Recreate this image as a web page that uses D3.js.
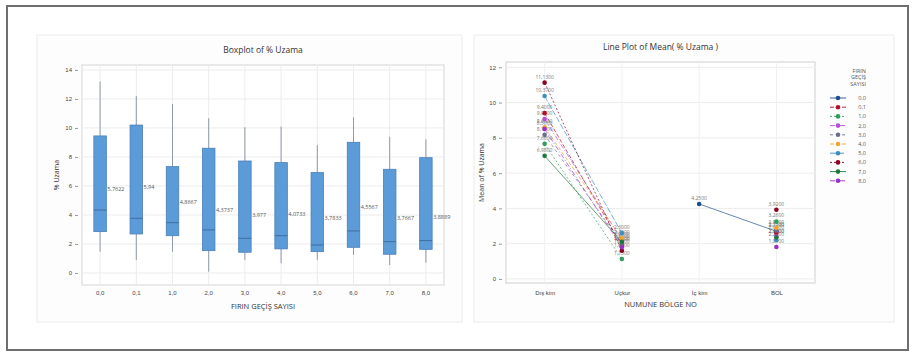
<!DOCTYPE html>
<html><head><meta charset="utf-8">
<script src="https://cdn.jsdelivr.net/npm/d3@7"></script>
<style>body{margin:0;background:#fff;}svg{display:block;font-family:"Open Sans","DejaVu Sans",sans-serif;}</style>
</head><body>
<svg id="c" width="914" height="353"></svg>
<script>
// ---- Boxplot data ----
const passes = ["0,0","0,1","1,0","2,0","3,0","4,0","5,0","6,0","7,0","8,0"];
const whiskLow  = [1.47,0.90,1.47,0.09,0.90,0.67,0.90,1.24,0.55,0.71];
const q1        = [2.85,2.69,2.57,1.54,1.43,1.66,1.47,1.77,1.29,1.63];
const medians   = [4.34,3.77,3.47,2.97,2.39,2.57,1.93,2.90,2.16,2.23];
const q3        = [9.45,10.20,7.33,8.60,7.72,7.61,6.92,9.01,7.15,7.95];
const whiskHigh = [13.20,12.20,11.65,10.67,10.05,10.10,8.83,10.74,9.40,9.22];
const means     = [5.7622,5.94,4.8667,4.3737,3.977,4.0733,3.7833,4.5567,3.7667,3.8889];
const meanLabels= ["5,7622","5,94","4,8667","4,3737","3,977","4,0733","3,7833","4,5567","3,7667","3,8889"];
const boxTicks  = [0,2,4,6,8,10,12,14];

// ---- Line plot data ----
const regions = ["Dış kim","Uçkur","İç kim","BOL"];
const s00 = [null,null,4.25,2.70];
const s01 = [9.40,1.90,null,2.60];
const s10 = [7.66,1.13,null,3.26];
const s20 = [9.07,2.20,null,2.40];
const s30 = [8.17,2.00,null,2.75];
const s40 = [8.60,2.30,null,2.90];
const s50 = [10.37,2.60,null,2.20];
const s60 = [11.13,1.60,null,3.92];
const s70 = [6.98,2.10,null,2.35];
const s80 = [8.50,1.80,null,1.81];
const seriesNames = passes;
const seriesValues = [s00,s01,s10,s20,s30,s40,s50,s60,s70,s80];
const seriesColors = ["#1f4e8c","#b0102a","#2e9e5e","#b34fd0","#6b6f8f","#f0a531","#3d8fc0","#8c0020","#1d7a3d","#9a2fc8"];
const seriesDash = ["", "4,2", "2,2", "5,2,1,2", "3,3", "4,2", "6,2", "2,2", "", "5,2,1,2"];
const lineTicks = [0,2,4,6,8,10,12];

const svg = d3.select("#c");
// outer frame
svg.append("rect").attr("x",7).attr("y",6).attr("width",901).attr("height",344)
  .attr("fill","#fff").attr("stroke","#6e6e6e").attr("stroke-width",2);
// cards
svg.append("rect").attr("x",37).attr("y",35).attr("width",425).attr("height",287).attr("fill","#fdfdfd").attr("stroke","#ececec");
svg.append("rect").attr("x",474).attr("y",35).attr("width",420).attr("height",287).attr("fill","#fdfdfd").attr("stroke","#ececec");

// ===== Boxplot =====
const L = {x0:82,x1:444,y0:65,y1:285};
const bx = d3.scaleBand().domain(passes).range([L.x0,L.x1]).padding(0);
const by = d3.scaleLinear().domain([-0.83,14.34]).range([L.y1,L.y0]);
const gL = svg.append("g");
gL.append("rect").attr("x",L.x0).attr("y",L.y0).attr("width",L.x1-L.x0).attr("height",L.y1-L.y0).attr("fill","#fff").attr("stroke","#d6d6d6");
// grid
gL.selectAll(".hg").data(boxTicks).join("line").attr("x1",L.x0).attr("x2",L.x1)
  .attr("y1",d=>by(d)).attr("y2",d=>by(d)).attr("stroke","#ececec");
gL.selectAll(".vg").data(passes).join("line").attr("y1",L.y0).attr("y2",L.y1)
  .attr("x1",d=>bx(d)+bx.bandwidth()/2).attr("x2",d=>bx(d)+bx.bandwidth()/2).attr("stroke","#ececec");
// axes
const yAxL = d3.axisLeft(by).tickValues(boxTicks).tickSize(3).tickFormat(d3.format("d"));
const ga = gL.append("g").attr("transform",`translate(${L.x0-4},0)`).call(yAxL);
ga.select(".domain").remove();
ga.selectAll("line").attr("stroke","#999");
ga.selectAll("text").attr("font-size",6).attr("fill","#444");
const xAxL = d3.axisBottom(bx).tickSize(0).tickPadding(6);
const gx = gL.append("g").attr("transform",`translate(0,${L.y1})`).call(xAxL);
gx.select(".domain").remove();
gx.selectAll("text").attr("font-size",6).attr("fill","#444");
const bw = 12.5;
passes.forEach((p,i)=>{
  const cx = bx(p)+bx.bandwidth()/2;
  gL.append("line").attr("x1",cx).attr("x2",cx).attr("y1",by(whiskHigh[i])).attr("y2",by(q3[i])).attr("stroke","#8f9aa8").attr("stroke-width",1);
  gL.append("line").attr("x1",cx).attr("x2",cx).attr("y1",by(q1[i])).attr("y2",by(whiskLow[i])).attr("stroke","#8f9aa8").attr("stroke-width",1);
  gL.append("rect").attr("x",cx-bw/2).attr("y",by(q3[i])).attr("width",bw).attr("height",by(q1[i])-by(q3[i]))
    .attr("fill","#5b9bd8").attr("stroke","#4a7fb8").attr("stroke-width",0.8);
  gL.append("line").attr("x1",cx-bw/2).attr("x2",cx+bw/2).attr("y1",by(medians[i])).attr("y2",by(medians[i])).attr("stroke","#3f6e9e").attr("stroke-width",1);
  gL.append("text").attr("x",cx+bw/2+1).attr("y",by(means[i])+2).attr("font-size",5.5).attr("fill","#555").text(meanLabels[i]);
});
gL.append("text").attr("x",(L.x0+L.x1)/2).attr("y",53).attr("text-anchor","middle").attr("font-size",8.5).attr("fill","#333").text("Boxplot of % Uzama");
gL.append("text").attr("x",(L.x0+L.x1)/2).attr("y",309).attr("text-anchor","middle").attr("font-size",7.5).attr("fill","#333").text("FIRIN GEÇİŞ SAYISI");
gL.append("text").attr("transform",`translate(59,${(L.y0+L.y1)/2}) rotate(-90)`).attr("text-anchor","middle").attr("font-size",7).attr("fill","#333").text("% Uzama");

// ===== Line plot =====
const R = {x0:506,x1:815,y0:62,y1:283};
const rx = d3.scalePoint().domain(regions).range([R.x0,R.x1]).padding(0.5);
const ry = d3.scaleLinear().domain([-0.23,12.3]).range([R.y1,R.y0]);
const gR = svg.append("g");
gR.append("rect").attr("x",R.x0).attr("y",R.y0).attr("width",R.x1-R.x0).attr("height",R.y1-R.y0).attr("fill","#fff").attr("stroke","#cfcfcf");
gR.selectAll(".hg").data(lineTicks).join("line").attr("x1",R.x0).attr("x2",R.x1)
  .attr("y1",d=>ry(d)).attr("y2",d=>ry(d)).attr("stroke","#ececec");
gR.selectAll(".vg").data(regions).join("line").attr("y1",R.y0).attr("y2",R.y1)
  .attr("x1",d=>rx(d)).attr("x2",d=>rx(d)).attr("stroke","#f0f0f0");
const gay = gR.append("g").attr("transform",`translate(${R.x0-4},0)`).call(d3.axisLeft(ry).tickValues(lineTicks).tickSize(3));
gay.select(".domain").remove();
gay.selectAll("line").attr("stroke","#999");
gay.selectAll("text").attr("font-size",6).attr("fill","#444");
const gax = gR.append("g").attr("transform",`translate(0,${R.y1})`).call(d3.axisBottom(rx).tickSize(0).tickPadding(8));
gax.select(".domain").remove();
gax.selectAll("text").attr("font-size",6).attr("fill","#444");
const line = d3.line().defined(d=>d.v!=null).x(d=>rx(d.r)).y(d=>ry(d.v));
seriesValues.forEach((vals,i)=>{
  const pts = vals.map((v,j)=>({r:regions[j],v}));
  gR.append("path").datum(pts).attr("d",line).attr("fill","none").attr("stroke",seriesColors[i])
    .attr("stroke-width",0.8).attr("stroke-dasharray",seriesDash[i]).attr("opacity",0.85);
});
seriesValues.forEach((vals,i)=>{
  vals.forEach((v,j)=>{
    if(v==null) return;
    gR.append("text").attr("x",rx(regions[j])).attr("y",ry(v)-4).attr("text-anchor","middle")
      .attr("font-size",5).attr("fill","#777").text(d3.format(".4f")(v).replace(".",","));
  });
});
seriesValues.forEach((vals,i)=>{
  vals.forEach((v,j)=>{
    if(v==null) return;
    gR.append("circle").attr("cx",rx(regions[j])).attr("cy",ry(v)).attr("r",2.3).attr("fill",seriesColors[i]);
  });
});
gR.append("text").attr("x",(R.x0+R.x1)/2).attr("y",50).attr("text-anchor","middle").attr("font-size",8.5).attr("fill","#333").text("Line Plot of Mean( % Uzama )");
gR.append("text").attr("x",(R.x0+R.x1)/2).attr("y",307).attr("text-anchor","middle").attr("font-size",7.5).attr("fill","#333").text("NUMUNE BÖLGE NO");
gR.append("text").attr("transform",`translate(484,${(R.y0+R.y1)/2}) rotate(-90)`).attr("text-anchor","middle").attr("font-size",7).attr("fill","#333").text("Mean of % Uzama");
// legend
const lg = svg.append("g");
["FIRIN","GEÇİŞ","SAYISI"].forEach((t,k)=>{
  lg.append("text").attr("x",866).attr("y",73+k*6.3).attr("text-anchor","end").attr("font-size",5.5).attr("fill","#555").text(t);
});
seriesNames.forEach((n,i)=>{
  const y = 98 + i*9.2;
  lg.append("line").attr("x1",830).attr("x2",846).attr("y1",y).attr("y2",y).attr("stroke",seriesColors[i]).attr("stroke-width",0.9).attr("stroke-dasharray",seriesDash[i]);
  lg.append("circle").attr("cx",838).attr("cy",y).attr("r",2.3).attr("fill",seriesColors[i]);
  lg.append("text").attr("x",866).attr("y",y+2).attr("text-anchor","end").attr("font-size",5.5).attr("fill","#555").text(n);
});
</script>
</body></html>
